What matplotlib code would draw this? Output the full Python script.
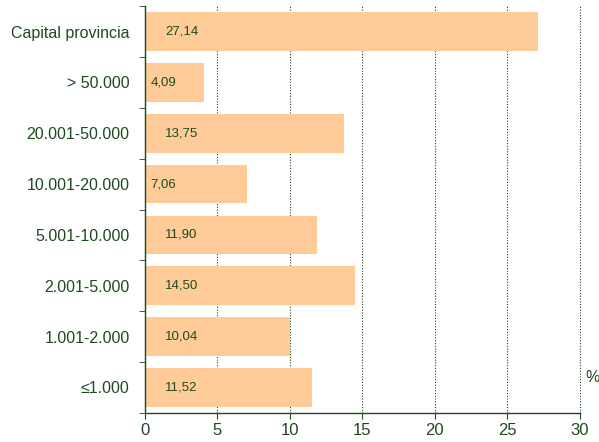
import matplotlib
matplotlib.use("Agg")
import matplotlib.pyplot as plt
import numpy as np

plt.rcParams["font.family"] = ["Liberation Sans", "DejaVu Sans"]

# datos
categorias = ["Capital provincia", "> 50.000", "20.001-50.000", "10.001-20.000",
              "5.001-10.000", "2.001-5.000", "1.001-2.000", "≤1.000"]
valores = [27.14, 4.09, 13.75, 7.06, 11.90, 14.50, 10.04, 11.52]
xticks = [0, 5, 10, 15, 20, 25, 30]

verde = "#1f4a1f"
naranja = "#ffcc99"

fig = plt.figure(figsize=(5.99, 4.42), dpi=100)
ax = fig.add_axes([0.242, 0.066, 0.726, 0.920])

y = np.arange(len(categorias))
ax.barh(y, valores, height=0.76, color=naranja, zorder=2)

for yi, v in zip(y, valores):
    x0 = 0.4 if v < 8 else 1.4
    ax.text(x0, yi, f"{v:.2f}".replace(".", ","), ha="left", va="center",
            fontsize=9.5, color=verde, zorder=3)

ax.set_xlim(0, 30)
ax.set_ylim(len(categorias) - 0.5, -0.5)
ax.set_xticks(xticks)
ax.set_yticks(y)
ax.set_yticklabels(categorias)
ax.set_yticks(np.arange(-0.5, len(categorias), 1), minor=True)
ax.tick_params(axis="y", which="major", length=0, pad=11, labelsize=11.5, labelcolor=verde)
ax.tick_params(axis="y", which="minor", length=4, color=verde, direction="out")
ax.tick_params(axis="x", length=4, color=verde, labelsize=12, labelcolor=verde)

ax.grid(axis="x", linestyle=(0, (1, 1.5)), color=verde, linewidth=0.8, zorder=1)
for gl in ax.get_xgridlines():
    gl.set_clip_on(False)
for s in ["top", "right"]:
    ax.spines[s].set_visible(False)
for s in ["left", "bottom"]:
    ax.spines[s].set_color(verde)
    ax.spines[s].set_linewidth(1)

fig.text(0.977, 0.145, "%", fontsize=11.5, color=verde, ha="left", va="center")

fig.savefig("out.png", dpi=100)
